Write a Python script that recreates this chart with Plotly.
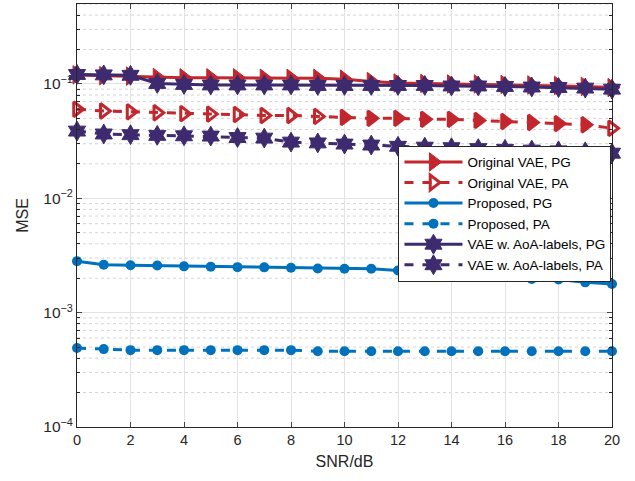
import plotly.graph_objects as go

snr = list(range(0, 21))

orig_pg = [0.120, 0.118, 0.117, 0.114, 0.113, 0.113, 0.113, 0.112, 0.112, 0.112, 0.110,
           0.105, 0.102, 0.101, 0.100, 0.100, 0.099, 0.098, 0.097, 0.095, 0.093]
orig_pa = [0.060, 0.058, 0.057, 0.056, 0.055, 0.0545, 0.054, 0.053, 0.053, 0.052, 0.051,
           0.050, 0.050, 0.049, 0.049, 0.048, 0.047, 0.046, 0.045, 0.044, 0.041]
prop_pg = [0.00282, 0.00262, 0.00260, 0.00258, 0.00254, 0.00252, 0.00250, 0.00249, 0.00247, 0.00243, 0.00242,
           0.00242, 0.00234, 0.00228, 0.00223, 0.00216, 0.00207, 0.00197, 0.00195, 0.00184, 0.00178]
prop_pa = [0.00049, 0.00048, 0.00047, 0.00047, 0.00047, 0.00047, 0.00047, 0.00047, 0.00047, 0.00046, 0.00046,
           0.00046, 0.00046, 0.00046, 0.00046, 0.00046, 0.00046, 0.00046, 0.00046, 0.00046, 0.00046]
aoa_pg = [0.121, 0.120, 0.119, 0.101, 0.099, 0.098, 0.098, 0.098, 0.098, 0.097, 0.097,
          0.097, 0.097, 0.097, 0.096, 0.096, 0.095, 0.094, 0.093, 0.092, 0.090]
aoa_pa = [0.0387, 0.0365, 0.0360, 0.0355, 0.0352, 0.0350, 0.0340, 0.0336, 0.0310, 0.0305, 0.0298,
          0.0292, 0.0285, 0.0280, 0.0277, 0.0272, 0.0268, 0.0264, 0.0260, 0.0255, 0.0248]

names = ["Original VAE, PG", "Original VAE, PA", "Proposed, PG", "Proposed, PA",
         "VAE w. AoA-labels, PG", "VAE w. AoA-labels, PA"]

RED = "#C1272D"
BLUE = "#0072BD"
PURPLE = "#3E2A6E"

fig = go.Figure()

pa_sym = ["triangle-right-open"] * 10 + ["triangle-right"] * 10 + ["triangle-right-open"]

fig.add_trace(go.Scatter(x=snr, y=orig_pg, name=names[0], mode="lines+markers", cliponaxis=False,
                         line=dict(color=RED, width=3),
                         marker=dict(symbol="triangle-right", size=16, color=RED,
                                     line=dict(color=RED, width=1))))
fig.add_trace(go.Scatter(x=snr, y=orig_pa, name=names[1], mode="lines+markers", cliponaxis=False,
                         line=dict(color=RED, width=3, dash="dash"),
                         marker=dict(symbol=pa_sym, size=13, color=RED,
                                     line=dict(color=RED, width=3))))
fig.add_trace(go.Scatter(x=snr, y=prop_pg, name=names[2], mode="lines+markers", cliponaxis=False,
                         line=dict(color=BLUE, width=3),
                         marker=dict(symbol="circle", size=10, color=BLUE)))
fig.add_trace(go.Scatter(x=snr, y=prop_pa, name=names[3], mode="lines+markers", cliponaxis=False,
                         line=dict(color=BLUE, width=3, dash="dash"),
                         marker=dict(symbol="circle", size=10, color=BLUE)))
fig.add_trace(go.Scatter(x=snr, y=aoa_pg, name=names[4], mode="lines+markers", cliponaxis=False,
                         line=dict(color=PURPLE, width=3),
                         marker=dict(symbol="hexagram", size=15, color=PURPLE,
                                     line=dict(color=PURPLE, width=1))))
fig.add_trace(go.Scatter(x=snr, y=aoa_pa, name=names[5], mode="lines+markers", cliponaxis=False,
                         line=dict(color=PURPLE, width=3, dash="dash"),
                         marker=dict(symbol="hexagram", size=15, color=PURPLE,
                                     line=dict(color=PURPLE, width=1))))

ytick_vals = [1e-4, 1e-3, 1e-2, 1e-1]
ytick_text = ["10<sup>−4</sup>", "10<sup>−3</sup>", "10<sup>−2</sup>", "10<sup>−1</sup>"]
xtick_vals = list(range(0, 21, 2))
minor_vals = [d * m for d in [1e-4, 1e-3, 1e-2, 1e-1] for m in range(2, 10) if d * m <= 0.5]

# minor gridlines (dotted) for the log axis
shapes = []
for v in minor_vals:
    shapes.append(dict(type="line", xref="paper", yref="y", x0=0, x1=1, y0=v, y1=v,
                       line=dict(color="#D4D4D4", width=1, dash="dot"), layer="below"))

fig.update_layout(
    width=635, height=481,
    margin=dict(l=77, r=23, t=4, b=54),
    paper_bgcolor="white", plot_bgcolor="white",
    font=dict(family="Liberation Sans, Arial, sans-serif", size=14.5, color="#262626"),
    shapes=shapes,
    legend=dict(x=0.999, xanchor="right", y=0.665, yanchor="top",
                bgcolor="white", bordercolor="#262626", borderwidth=1,
                font=dict(size=13.5, color="black"), tracegroupgap=0, itemwidth=58),
    showlegend=True,
)
fig.update_xaxes(range=[0, 20], tickvals=xtick_vals, ticks="inside", ticklen=5,
                 tickfont=dict(size=14.5),
                 showline=True, linecolor="#262626", linewidth=1, mirror="ticks",
                 showgrid=True, gridcolor="#E3E3E3", gridwidth=1, zeroline=False,
                 title=dict(text="SNR/dB", standoff=8, font=dict(size=16)))
fig.update_yaxes(type="log", range=[-4, -0.301], tickvals=ytick_vals, ticktext=ytick_text,
                 tickfont=dict(size=15.5),
                 ticks="inside", ticklen=5, showline=True, linecolor="#262626", linewidth=1,
                 mirror="ticks", showgrid=True, gridcolor="#E3E3E3", gridwidth=1,
                 zeroline=False,
                 minor=dict(ticks="inside", ticklen=3, tickvals=minor_vals, tickcolor="#262626"),
                 title=dict(text="MSE", standoff=10, font=dict(size=16)))

fig.write_html("out.html")
